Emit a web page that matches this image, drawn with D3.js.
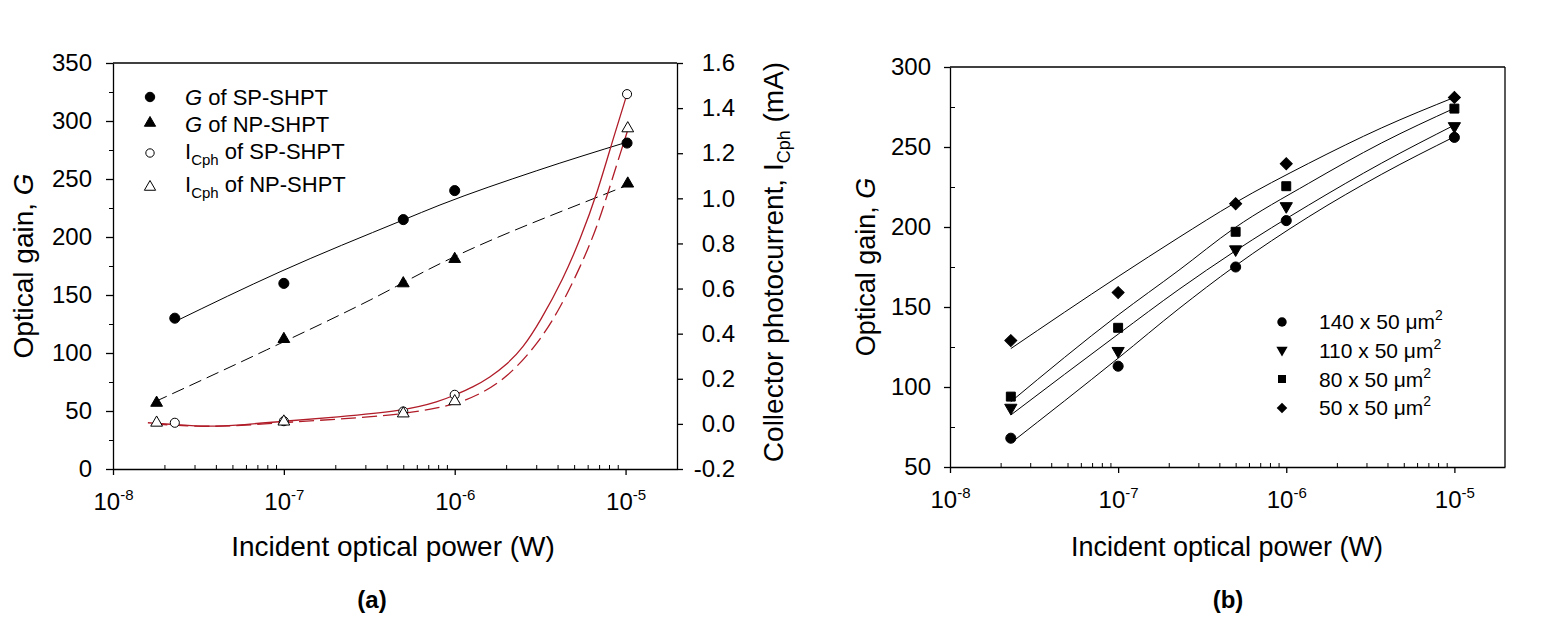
<!DOCTYPE html>
<html><head><meta charset="utf-8">
<script src="https://cdn.jsdelivr.net/npm/d3@7"></script>
<style>
body{margin:0;background:#fff}
svg{display:block}
text{font-family:"Liberation Sans",Arial,sans-serif;fill:#000}
</style>
</head><body>
<svg id="chart" width="1561" height="624"></svg>
<script>
// ---------------- data ----------------
const xDomain = [1e-8, 2e-5];
const xTickValues = [1e-8, 1e-7, 1e-6, 1e-5];
const xTickExponents = ["-8", "-7", "-6", "-5"];

// panel (a)
const gainTicksA = [0, 50, 100, 150, 200, 250, 300, 350];
const gainMinorA = [25, 75, 125, 175, 225, 275, 325];
const currentTicksA = [-0.2, 0, 0.2, 0.4, 0.6, 0.8, 1.0, 1.2, 1.4, 1.6];

const powerGSP = [2.3e-8, 1e-7, 5e-7, 1e-6, 1.02e-5];
const gainSP   = [130, 160, 215, 240, 281];
const powerGNP = [1.8e-8, 1e-7, 5e-7, 1e-6, 1.03e-5];
const gainNP   = [57, 112, 160, 181, 246];
const powerISP = [2.3e-8, 1e-7, 5e-7, 1e-6, 1.02e-5];
const currentSP = [0.005, 0.012, 0.055, 0.129, 1.462];
const powerINP = [1.8e-8, 1e-7, 5e-7, 1e-6, 1.03e-5];
const currentNP = [0.005, 0.010, 0.046, 0.100, 1.310];

// fitted curves
const fitGSPx = [2.3e-8, 9.5e-8, 5e-7, 8.2e-7, 3e-6, 1.03e-5];
const fitGSPy = [127, 170, 214.7, 227.6, 257, 282];
const fitGNPx = [1.76e-8, 7.9e-8, 3.2e-7, 8.2e-7, 7.8e-6, 1.0e-5];
const fitGNPy = [58, 102.6, 145.7, 177, 237.7, 244];
const fitISPx = [1.6e-8, 2.5e-8, 3.5e-8, 5e-8, 1e-7, 2e-7, 5e-7, 8.2e-7, 1e-6, 1.28e-6, 1.6e-6, 2.03e-6, 2.5e-6, 3.17e-6, 4.33e-6, 5.44e-6, 6.84e-6, 8.5e-6, 1.02e-5];
const fitISPy = [0.005, -0.005, -0.012, -0.008, 0.012, 0.03, 0.057, 0.10, 0.128, 0.163, 0.205, 0.265, 0.335, 0.455, 0.645, 0.82, 1.025, 1.27, 1.462];
const fitINPx = [1.7e-8, 3.2e-8, 5e-8, 1e-7, 2e-7, 5e-7, 8.2e-7, 1.03e-6, 1.41e-6, 2.03e-6, 3.05e-6, 4.16e-6, 5.44e-6, 6.84e-6, 8.5e-6, 1.03e-5];
const fitINPy = [0.0, -0.012, -0.01, 0.006, 0.02, 0.042, 0.073, 0.091, 0.131, 0.206, 0.352, 0.515, 0.697, 0.874, 1.104, 1.303];

// panel (b)
const gainTicksB = [50, 100, 150, 200, 250, 300];
const gainMinorB = [75, 125, 175, 225, 275];
const powerB = [2.3e-8, 1e-7, 5e-7, 1e-6, 1e-5];
const gain140 = [68, 113, 175, 204, 256];
const gain110 = [87, 122.5, 186, 213, 263];
const gain80  = [94, 137, 197, 225.5, 274];
const gain50  = [129, 159, 214.5, 239.5, 281];
const fitBx = [2.3e-8, 1e-7, 2.3e-7, 4.9e-7, 1.36e-6, 3.7e-6, 1e-5];
const fit140 = [65, 118, 149, 175.2, 206.4, 233, 256.4];
const fit110 = [82.5, 133, 161, 184.6, 213.7, 240, 263.7];
const fit80  = [90.8, 145, 173, 199.2, 227.3, 252.6, 274.2];
const fit50  = [124, 169, 193.5, 214.8, 239.8, 262, 281];
const labelsB = ["140 x 50 ", "110 x 50 ", "80 x 50 ", "50 x 50 "];

// ---------------- drawing ----------------
const svg = d3.select("#chart");
const AX = 1.3;

function styleAxis(g){
  g.selectAll("path.domain").attr("stroke","#000").attr("stroke-width",AX);
  g.selectAll(".tick line").attr("stroke","#000").attr("stroke-width",AX);
  g.selectAll(".tick text").attr("font-size",24).attr("fill","#000");
}

function logXAxis(x, yPos){
  const g = svg.append("g").attr("transform",`translate(0,${yPos})`);
  g.call(d3.axisBottom(x).tickValues(xTickValues).tickSize(6).tickSizeOuter(0).tickFormat(()=>""));
  styleAxis(g);
  g.selectAll(".tick text").each(function(d,i){
    const t = d3.select(this).text(null).attr("y",41).attr("dy",0).attr("text-anchor","middle").attr("font-size",24);
    t.append("tspan").text("10");
    t.append("tspan").attr("font-size",15).attr("dy",-10).text(xTickExponents[i]);
  });
  const minor = x.ticks().filter(v => xTickValues.indexOf(v) < 0 && v < xDomain[1]);
  const gm = svg.append("g").attr("transform",`translate(0,${yPos})`);
  gm.call(d3.axisBottom(x).tickValues(minor).tickSize(-4).tickSizeOuter(0).tickFormat(()=>""));
  gm.select("path.domain").remove();
  gm.selectAll(".tick line").attr("stroke","#000").attr("stroke-width",1);
}

function markers(xs, ys, x, y, type, filled, size, rot){
  svg.append("g").selectAll("path").data(xs).join("path")
    .attr("d", d3.symbol().type(type).size(size))
    .attr("transform",(d,i)=>`translate(${x(d)},${y(ys[i])}) rotate(${rot||0})`)
    .attr("fill", filled ? "#000" : "#fff")
    .attr("stroke","#000").attr("stroke-width",1);
}

function fitLine(xs, ys, x, y, color, dash, width, curve){
  const line = d3.line().x(d=>x(d[0])).y(d=>y(d[1])).curve(curve || d3.curveMonotoneX);
  svg.append("path").datum(xs.map((v,i)=>[v,ys[i]]))
    .attr("d", line).attr("fill","none").attr("stroke",color)
    .attr("stroke-width",width||1).attr("stroke-dasharray",dash||null);
}

// ===== Panel (a) =====
const xA = d3.scaleLog().domain(xDomain).range([113, 677]);
const yA = d3.scaleLinear().domain([0, 350]).range([469, 63]);
const y2A = d3.scaleLinear().domain([-0.2, 1.6]).range([469, 63]);

svg.append("line").attr("x1",113).attr("x2",677).attr("y1",yA(350)).attr("y2",yA(350))
  .attr("stroke","#000").attr("stroke-width",AX);

const gLA = svg.append("g").attr("transform","translate(113,0)");
gLA.call(d3.axisLeft(yA).tickValues(gainTicksA).tickSize(7).tickSizeOuter(0).tickPadding(14));
styleAxis(gLA);
const gLAm = svg.append("g").attr("transform","translate(113,0)");
gLAm.call(d3.axisLeft(yA).tickValues(gainMinorA).tickSize(4).tickSizeOuter(0).tickFormat(()=>""));
gLAm.select("path.domain").remove();
gLAm.selectAll(".tick line").attr("stroke","#000");

const gRA = svg.append("g").attr("transform","translate(677,0)");
gRA.call(d3.axisRight(y2A).tickValues(currentTicksA).tickSize(6).tickSizeOuter(0).tickFormat(d=>d.toFixed(1)));
styleAxis(gRA);
gRA.selectAll(".tick text").attr("text-anchor","end").attr("x",58);

logXAxis(xA, 469);

fitLine(fitGSPx, fitGSPy, xA, yA, "#000", null, 1);
fitLine(fitGNPx, fitGNPy, xA, yA, "#000", "13,6", 1);
fitLine(fitISPx, fitISPy, xA, y2A, "#b01c28", null, 1.3, d3.curveBasis);
fitLine(fitINPx, fitINPy, xA, y2A, "#b01c28", "15,6", 1.3, d3.curveBasis);

markers(powerGSP, gainSP, xA, yA, d3.symbolCircle, true, 80);
markers(powerGNP, gainNP, xA, yA, d3.symbolTriangle, true, 60);
markers(powerISP, currentSP, xA, y2A, d3.symbolCircle, false, 65);
markers(powerINP, currentNP, xA, y2A, d3.symbolTriangle, false, 60);

const legA = [
  {type:d3.symbolCircle, fill:true, size:70, my:97, ty:105, g:true, txt:" of SP-SHPT"},
  {type:d3.symbolTriangle, fill:true, size:55, my:123, ty:132, g:true, txt:" of NP-SHPT"},
  {type:d3.symbolCircle, fill:false, size:55, my:153, ty:159, g:false, txt:" of SP-SHPT"},
  {type:d3.symbolTriangle, fill:false, size:55, my:187, ty:192, g:false, txt:" of NP-SHPT"}
];
legA.forEach(e=>{
  svg.append("path").attr("d",d3.symbol().type(e.type).size(e.size)())
    .attr("transform",`translate(150,${e.my})`)
    .attr("fill",e.fill?"#000":"#fff").attr("stroke","#000").attr("stroke-width",1);
  const t = svg.append("text").attr("x",185).attr("y",e.ty).attr("font-size",22);
  if(e.g){
    t.append("tspan").attr("font-style","italic").text("G");
    t.append("tspan").text(e.txt);
  } else {
    t.append("tspan").text("I");
    t.append("tspan").attr("font-size",15).attr("dy",6).text("Cph");
    t.append("tspan").attr("dy",-6).text(e.txt);
  }
});

svg.append("text").attr("x",393).attr("y",556).attr("text-anchor","middle").attr("font-size",28)
  .text("Incident optical power (W)");
const tyA = svg.append("text").attr("transform","translate(33,266) rotate(-90)")
  .attr("text-anchor","middle").attr("font-size",28);
tyA.append("tspan").text("Optical gain, ");
tyA.append("tspan").attr("font-style","italic").text("G");
const ty2A = svg.append("text").attr("transform","translate(783,262) rotate(-90)")
  .attr("text-anchor","middle").attr("font-size",28);
ty2A.append("tspan").text("Collector photocurrent, I");
ty2A.append("tspan").attr("font-size",18).attr("dy",7).text("Cph");
ty2A.append("tspan").attr("dy",-7).text(" (mA)");
svg.append("text").attr("x",372).attr("y",608).attr("text-anchor","middle")
  .attr("font-size",24).attr("font-weight","bold").text("(a)");

// ===== Panel (b) =====
const xB = d3.scaleLog().domain(xDomain).range([950, 1505]);
const yB = d3.scaleLinear().domain([50, 300]).range([467, 67]);

svg.append("line").attr("x1",950).attr("x2",1505).attr("y1",67).attr("y2",67)
  .attr("stroke","#000").attr("stroke-width",AX);
svg.append("line").attr("x1",1505).attr("x2",1505).attr("y1",67).attr("y2",467)
  .attr("stroke","#000").attr("stroke-width",AX);

const gLB = svg.append("g").attr("transform","translate(950,0)");
gLB.call(d3.axisLeft(yB).tickValues(gainTicksB).tickSize(6).tickSizeOuter(0).tickPadding(13));
styleAxis(gLB);
const gLBm = svg.append("g").attr("transform","translate(950,0)");
gLBm.call(d3.axisLeft(yB).tickValues(gainMinorB).tickSize(-5).tickSizeOuter(0).tickFormat(()=>""));
gLBm.select("path.domain").remove();
gLBm.selectAll(".tick line").attr("stroke","#000");

logXAxis(xB, 467);

[fit140, fit110, fit80, fit50].forEach(f => fitLine(fitBx, f, xB, yB, "#000", null, 1));

markers(powerB, gain140, xB, yB, d3.symbolCircle, true, 80);
markers(powerB, gain110, xB, yB, d3.symbolTriangle, true, 65, 180);
markers(powerB, gain80, xB, yB, d3.symbolSquare, true, 80);
markers(powerB, gain50, xB, yB, d3.symbolSquare, true, 72, 45);

const legB = [
  {type:d3.symbolCircle, size:70, rot:0, my:322, ty:329},
  {type:d3.symbolTriangle, size:55, rot:180, my:350, ty:358},
  {type:d3.symbolSquare, size:64, rot:0, my:379, ty:387},
  {type:d3.symbolSquare, size:56, rot:45, my:408, ty:415}
];
legB.forEach((e,i)=>{
  svg.append("path").attr("d",d3.symbol().type(e.type).size(e.size)())
    .attr("transform",`translate(1282,${e.my}) rotate(${e.rot})`).attr("fill","#000");
  const t = svg.append("text").attr("x",1319).attr("y",e.ty).attr("font-size",21);
  t.append("tspan").text(labelsB[i] + "\u03bcm");
  t.append("tspan").attr("font-size",14).attr("dy",-9).text("2");
});

svg.append("text").attr("x",1227).attr("y",556).attr("text-anchor","middle").attr("font-size",27)
  .text("Incident optical power (W)");
const tyB = svg.append("text").attr("transform","translate(875,267) rotate(-90)")
  .attr("text-anchor","middle").attr("font-size",27);
tyB.append("tspan").text("Optical gain, ");
tyB.append("tspan").attr("font-style","italic").text("G");
svg.append("text").attr("x",1228).attr("y",608).attr("text-anchor","middle")
  .attr("font-size",24).attr("font-weight","bold").text("(b)");
</script>
</body></html>
